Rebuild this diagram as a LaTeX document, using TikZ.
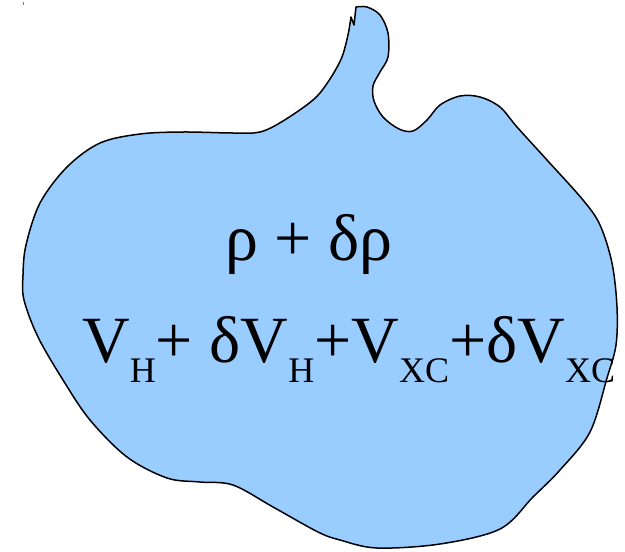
\documentclass[tikz,border=0pt]{standalone}
\usepackage{fontspec}
\setmainfont{Liberation Serif}
\newcommand{\subtxt}[1]{\raisebox{-20pt}{\fontsize{36}{36}\selectfont #1}}
\begin{document}
\begin{tikzpicture}[x=1pt,y=-1pt,
  blob/.style={fill={rgb,255:red,153;green,204;blue,255},draw=black,line width=1.5pt,line join=round},
  bigtext/.style={inner sep=0pt,font=\fontsize{66}{70}\selectfont}]
\useasboundingbox (0,0) rectangle (625,552);
\fill[gray] (22.5,1.5) rectangle (24,4.5);
\draw[blob] plot[smooth,tension=0.55] coordinates {
 (356,7) (367,7) (380,15) (388,33) (388,57) (380,72) (373,86) (374,101)
 (383,117) (399,129) (413,131) (427,120) (440,105) (460,96) (480,97)
 (500,107) (517,127) (547,160) (583,200) (600,225) (612,263) (617,307)
 (616,345) (607,378) (590,432) (560,470) (533,497) (500,529) (440,544)
 (377,548) (340,540) (318,532) (273,507) (233,485) (200,482) (167,478)
 (127,457) (90,420) (63,380) (38,337) (24,300) (23,275) (26,245) (40,203)
 (67,167) (100,143) (140,134) (183,132) (233,133) (260,132) (283,121)
 (313,100) (328,82) (342,57) (349,30)}
 -- (351,17) -- (354,25) -- cycle;
\node[bigtext,anchor=base] (rho) at (309,260) {ρ + δρ};
\node[bigtext,anchor=base west] (pot) at (82,362)
 {V\subtxt{H}+ δV\subtxt{H}+V\subtxt{XC}+δV\subtxt{XC}};
\end{tikzpicture}
\end{document}
